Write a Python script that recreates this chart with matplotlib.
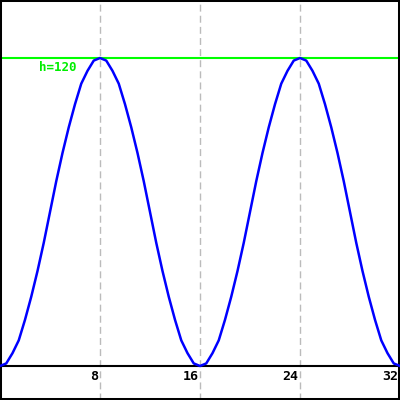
import matplotlib
matplotlib.use('Agg')
import matplotlib.pyplot as plt

# curve samples (half-unit steps)
xs = [i * 0.5 for i in range(65)]
half = [0, 1, 5, 10, 18, 27, 37, 48, 60, 72, 83, 93, 102, 110, 115, 119, 120]
h = half + half[-2::-1]
h = h + h[1:]
level = 120
level_label = 'h=120'
ticks = [8, 16, 24, 32]

fig = plt.figure(figsize=(4, 4), dpi=100)
ax = fig.add_axes([0, 0, 1, 1])
ax.set_xlim(0, 32)
ax.set_ylim(-13.25, 142.6)
ax.set_xticks([])
ax.set_yticks([])
for s in ax.spines.values():
    s.set_linewidth(2.9)
    s.set_color('black')

for t in ticks[:-1]:
    ax.axvline(t, color='#bbbbbb', lw=1, ls=(0, (5, 3)), zorder=1)
ax.axhline(0, color='black', lw=1.5, zorder=2)
ax.axhline(level, color='#00ff00', lw=1.5, zorder=2)
ax.text(3.1, level - 1.2, level_label, color='#00ee00', fontsize=9,
        family='DejaVu Sans Mono', fontweight='bold', ha='left', va='top')

ax.plot(xs, h, color='#0000ff', lw=1.8, zorder=3, clip_on=False)

for t in ticks:
    ax.text(t - 0.12, -1.4, str(t), fontsize=9.5, family='DejaVu Sans Mono',
            fontweight='bold', ha='right', va='top', color='black')

fig.savefig('out.png', dpi=100)
